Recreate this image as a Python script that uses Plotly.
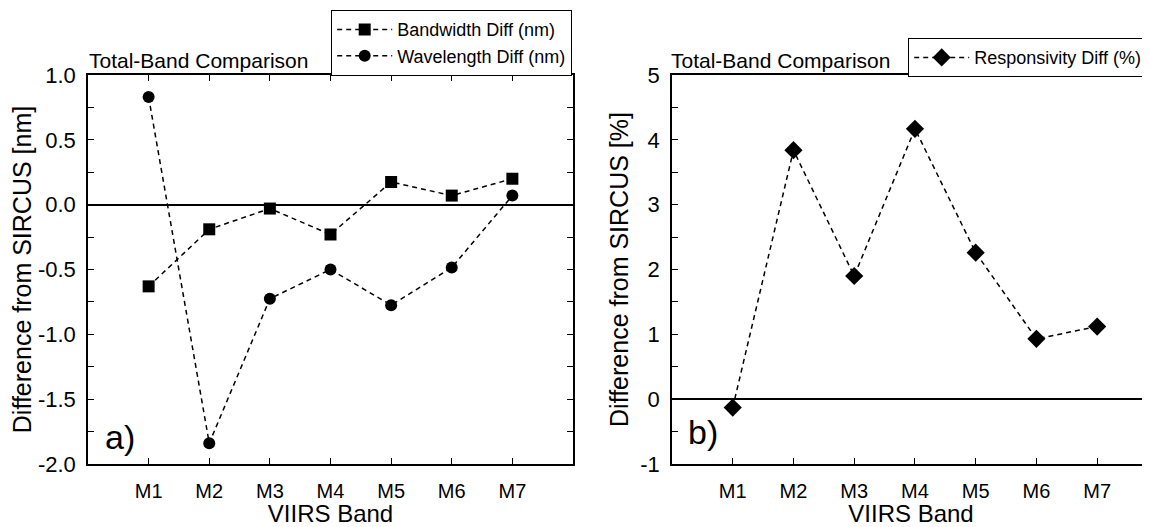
import plotly.graph_objects as go

bands = ["M1", "M2", "M3", "M4", "M5", "M6", "M7"]
bandwidth_diff = [-0.63, -0.19, -0.03, -0.23, 0.175, 0.07, 0.20]
wavelength_diff = [0.83, -1.84, -0.725, -0.50, -0.775, -0.485, 0.07]
responsivity_diff = [-0.13, 3.84, 1.90, 4.17, 2.26, 0.93, 1.12]

ya_tickvals = [1.0, 0.5, 0.0, -0.5, -1.0, -1.5, -2.0]
ya_ticktext = ["1.0", "0.5", "0.0", "-0.5", "-1.0", "-1.5", "-2.0"]
yb_tickvals = [5, 4, 3, 2, 1, 0, -1]
yb_ticktext = ["5", "4", "3", "2", "1", "0", "-1"]

FONT = "Liberation Sans, Arial, sans-serif"
# page body has an 8px default margin; figure fills the rest of the window
OFF = 8
W, H = 1150 - OFF, 527 - OFF

def px_x(p):
    return (p - OFF) / W

def px_y(p):
    return 1 - (p - OFF) / H

fig = go.Figure()
line_style = dict(color="black", width=1.5, dash="5px,4px")

fig.add_trace(go.Scatter(x=bands, y=bandwidth_diff, mode="lines+markers",
                         name="Bandwidth Diff (nm)", line=line_style,
                         marker=dict(symbol="square", size=12, color="black"),
                         xaxis="x", yaxis="y", legend="legend"))
fig.add_trace(go.Scatter(x=bands, y=wavelength_diff, mode="lines+markers",
                         name="Wavelength Diff (nm)", line=line_style,
                         marker=dict(symbol="circle", size=12, color="black"),
                         xaxis="x", yaxis="y", legend="legend"))
fig.add_trace(go.Scatter(x=bands, y=responsivity_diff, mode="lines+markers",
                         name="Responsivity Diff (%)", line=line_style,
                         marker=dict(symbol="diamond", size=14, color="black"),
                         xaxis="x2", yaxis="y2", legend="legend2"))

axis_common = dict(showgrid=False, linecolor="black", linewidth=1.5,
                   ticks="inside", ticklen=6, tickwidth=1.2, tickcolor="black")
xtickfont = dict(family=FONT, size=20, color="black")
ytickfont = dict(family=FONT, size=22, color="black")
xtitlefont = dict(family=FONT, size=24, color="black")
ytitlefont = dict(family=FONT, size=25, color="black")

ydom = [px_y(464), px_y(75)]

fig.update_layout(
    width=W, height=H,
    margin=dict(l=0, r=0, t=0, b=0, autoexpand=False),
    paper_bgcolor="white", plot_bgcolor="white",
    font=dict(family=FONT, color="black"),
    xaxis=dict(domain=[px_x(88), px_x(573)], type="category",
               categoryorder="array", categoryarray=bands,
               range=[-1, 7], showline=True, mirror="ticks",
               ticklabelstandoff=8, tickfont=xtickfont,
               title=dict(text="VIIRS Band", font=xtitlefont, standoff=4),
               anchor="y", **axis_common),
    yaxis=dict(domain=ydom, range=[-2, 1], tickmode="array",
               tickvals=ya_tickvals, ticktext=ya_ticktext,
               showline=True, mirror="ticks", zeroline=True,
               zerolinecolor="black", zerolinewidth=1.5,
               minor=dict(dtick=0.25, ticks="inside", ticklen=6, tickcolor="black", tickwidth=1.2),
               ticklabelstandoff=6, tickfont=ytickfont,
               title=dict(text="Difference from SIRCUS [nm]", font=ytitlefont, standoff=5),
               anchor="x", **axis_common),
    xaxis2=dict(domain=[px_x(672), 1.0], type="category",
                categoryorder="array", categoryarray=bands,
                range=[-1, 6.87], showline=True, mirror=True,
                ticklabelstandoff=8, tickfont=xtickfont,
                title=dict(text="VIIRS Band", font=xtitlefont, standoff=4),
                anchor="y2", **axis_common),
    yaxis2=dict(domain=ydom, range=[-1, 5], tickmode="array",
                tickvals=yb_tickvals, ticktext=yb_ticktext,
                showline=True, mirror=False, zeroline=True,
                zerolinecolor="black", zerolinewidth=1.5,
                minor=dict(dtick=0.5, ticks="inside", ticklen=6, tickcolor="black", tickwidth=1.2),
                ticklabelstandoff=6, tickfont=ytickfont,
                title=dict(text="Difference from SIRCUS [%]", font=ytitlefont, standoff=5),
                anchor="x2", **axis_common),
    yaxis3=dict(domain=ydom, range=[-1, 5], dtick=1, overlaying="y2", side="right",
                anchor="x2", showgrid=False, showline=False, zeroline=False,
                showticklabels=False, ticks="inside", ticklen=3, tickwidth=1.2, tickcolor="black"),
    legend=dict(x=px_x(572), xanchor="right", y=px_y(10), yanchor="top",
                bordercolor="black", borderwidth=1.2, bgcolor="white",
                font=dict(family=FONT, size=18, color="black"),
                tracegroupgap=0, itemwidth=55),
    legend2=dict(x=px_x(908), xanchor="left", y=px_y(38), yanchor="top",
                 bordercolor="black", borderwidth=1.2, bgcolor="white",
                 font=dict(family=FONT, size=18, color="black"), itemwidth=55),
    showlegend=True,
)

# invisible trace so the overlaid right-hand axis of panel b is drawn (tick marks only)
fig.add_trace(go.Scatter(x=[bands[0]], y=[responsivity_diff[0]], xaxis="x2", yaxis="y3",
                         mode="markers", marker=dict(opacity=0), showlegend=False,
                         hoverinfo="skip"))

for xpos in (87, 669):
    fig.add_annotation(text="Total-Band Comparison", x=px_x(xpos), y=px_y(60),
                       xref="paper", yref="paper", xanchor="left", yanchor="middle",
                       showarrow=False, font=dict(family=FONT, size=21, color="black"))

fig.add_annotation(text="a)", x=0.03, y=0.07, xref="x domain", yref="y domain",
                   xanchor="left", yanchor="middle", showarrow=False,
                   font=dict(family=FONT, size=34, color="black"))
fig.add_annotation(text="b)", x=0.03, y=0.082, xref="x2 domain", yref="y2 domain",
                   xanchor="left", yanchor="middle", showarrow=False,
                   font=dict(family=FONT, size=34, color="black"))

fig.write_html("out.html")
